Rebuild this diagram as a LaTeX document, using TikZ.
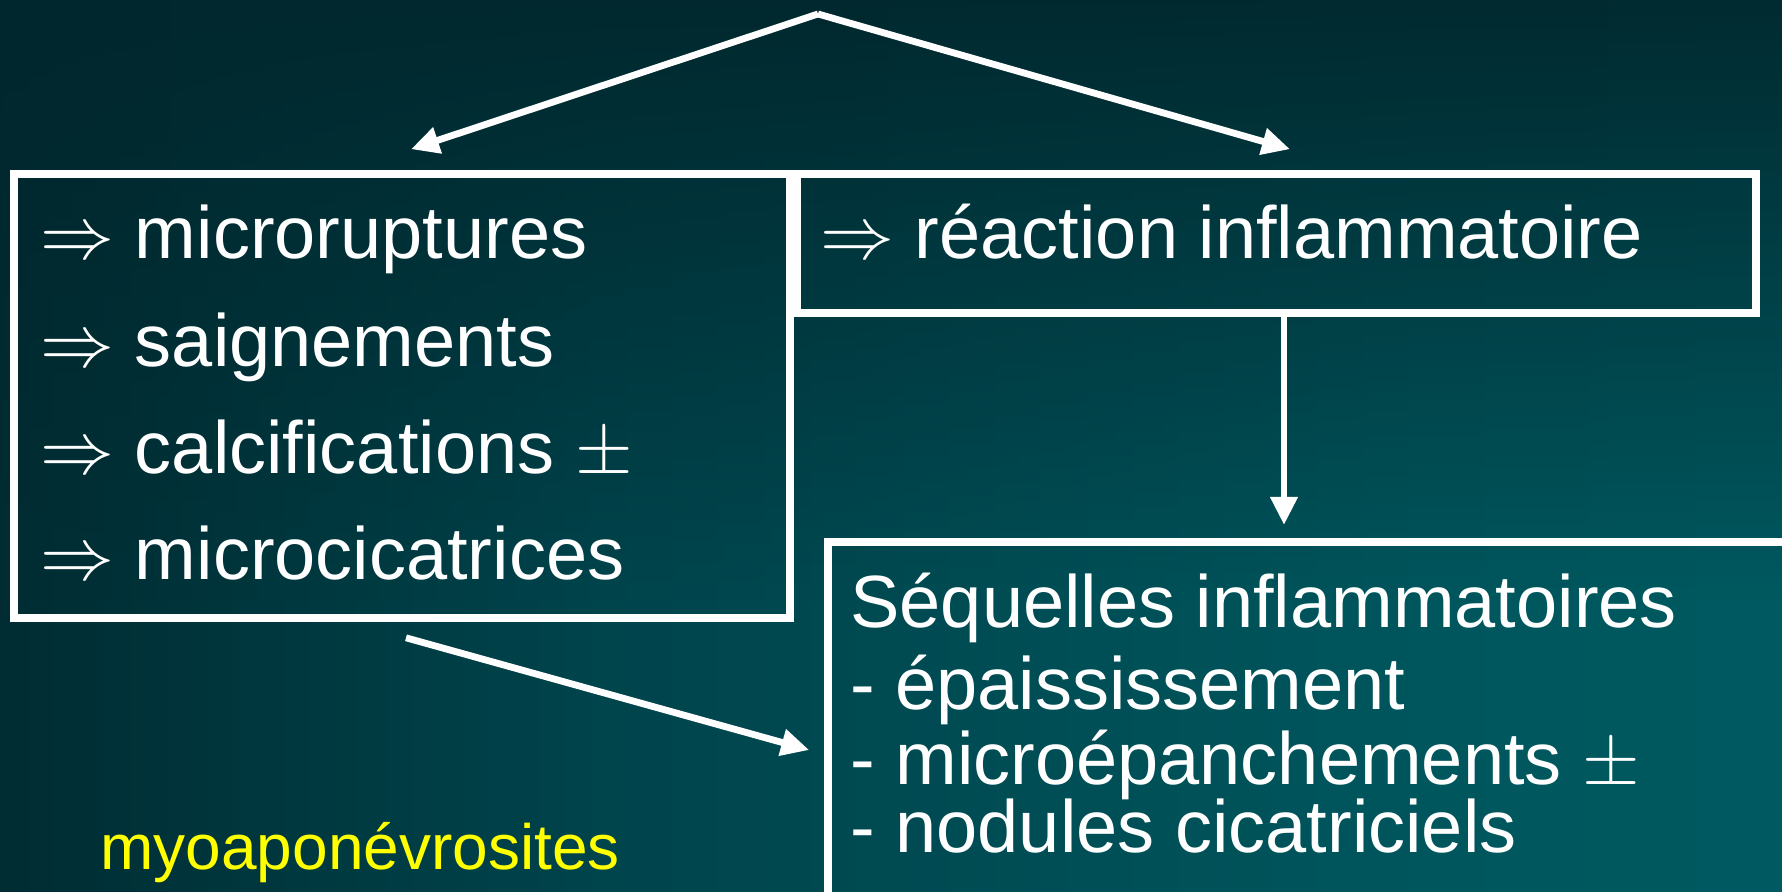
\RequirePackage{fix-cm}
\documentclass[tikz,border=0pt]{standalone}
\usepackage{fontspec}
\setmainfont{Liberation Sans}
\usetikzlibrary{arrows.meta, fadings}
\definecolor{notetext}{HTML}{FFFF00}
% slide background, bottom row and top row
\pgfdeclarehorizontalshading{slidebase}{100bp}{color(0bp)=(rgb,255:red,0;green,12;blue,14);
  color(25bp)=(rgb,255:red,0;green,44;blue,50); color(42bp)=(rgb,255:red,0;green,68;blue,76);
  color(65bp)=(rgb,255:red,0;green,86;blue,93); color(100bp)=(rgb,255:red,0;green,98;blue,105)}
\pgfdeclarehorizontalshading{slidetop}{100bp}{color(0bp)=(rgb,255:red,0;green,18;blue,20);
  color(20bp)=(rgb,255:red,0;green,39;blue,45); color(100bp)=(rgb,255:red,0;green,43;blue,49)}

\begin{document}
\begin{tikzpicture}[x=0.5pt, y=-0.5pt,
    box/.style={rectangle, draw=white, line width=3.8pt, inner sep=0pt},
    txt/.style={anchor=base west, inner sep=0pt, text=white, font=\fontsize{37}{44}\selectfont},
    arrow/.style={-{Triangle[length=14pt, width=13pt]}, draw=white, line width=3.4pt}
]
\useasboundingbox (0,0) rectangle (1782,892);
\clip (0,0) rectangle (1782,892);

% background of the slide
\shade[shading=slidebase] (-10,-10) rectangle (1792,902);
\shade[shading=slidetop, path fading=south] (-10,-10) rectangle (1792,600);

% boxes
\node[box, minimum width=388pt, minimum height=222pt] (mech) at (402,396) {};
\node[box, minimum width=479.5pt, minimum height=69.5pt] (infl) at (1276.5,243.5) {};
\node[box, minimum width=501pt, minimum height=199pt] (seq) at (1329,741) {};

% texts
\node[txt] (mech1) at (40,259) {$\Rightarrow$ microruptures};
\node[txt] (mech2) at (40,367) {$\Rightarrow$ saignements};
\node[txt] (mech3) at (40,474) {$\Rightarrow$ calcifications $\pm$};
\node[txt] (mech4) at (40,580) {$\Rightarrow$ microcicatrices};
\node[txt] (infl1) at (820,259) {$\Rightarrow$ réaction inflammatoire};
\node[txt] (seq1) at (850,627) {Séquelles inflammatoires};
\node[txt] (seq2) at (850,709) {- épaississement};
\node[txt] (seq3) at (850,784) {- microépanchements $\pm$};
\node[txt] (seq4) at (850,852) {- nodules cicatriciels};
\node[txt, text=notetext, font=\fontsize{32}{38}\selectfont] (title) at (100,869) {myoaponévrosites};

% connectors
\coordinate (apex) at (818,14);
\coordinate (vdown) at (1284,525);
\draw[arrow] (apex) -- ([xshift=4.5pt, yshift=10.5pt]mech.north);
\draw[arrow] (apex) -- ([xshift=6.75pt, yshift=10.5pt]infl.north);
\draw[arrow] (vdown |- infl.south) -- (vdown);
\draw[arrow] ([xshift=2pt, yshift=-8pt]mech.south) -- ([xshift=-7.5pt, yshift=-4.5pt]seq.west);
\end{tikzpicture}
\end{document}
